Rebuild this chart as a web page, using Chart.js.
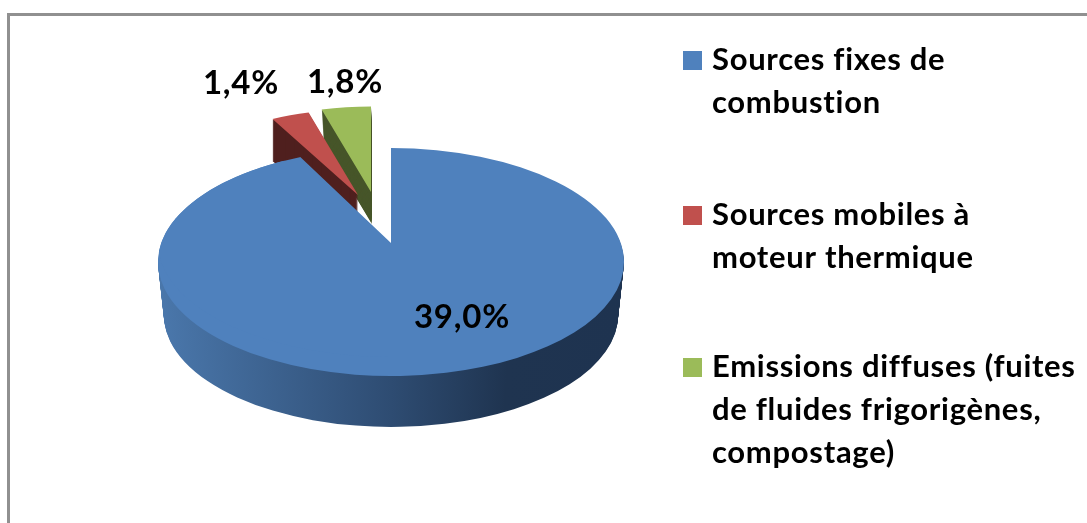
<!DOCTYPE html>
<html>
<head>
<meta charset="utf-8">
<title>Sources</title>
<script src="https://cdn.jsdelivr.net/npm/chart.js@4/dist/chart.umd.min.js"></script>
<style>
  html, body { margin: 0; padding: 0; background: #fff; }
  #frame { position: absolute; left: 7px; top: 13px; right: 0; bottom: 0; border-top: 3px solid #909090; border-left: 3px solid #909090; }
  #chart { position: absolute; left: 0; top: 0; filter: blur(0.6px); }
</style>
</head>
<body>
<div id="frame"></div>
<canvas id="chart" width="1087" height="523"></canvas>
<script>
'use strict';

var categories = [
  ['Sources fixes de', 'combustion'],
  ['Sources mobiles \u00e0', 'moteur thermique'],
  ['Emissions diffuses (fuites', 'de fluides frigorig\u00e8nes,', 'compostage)'],
];
var shares = [39.0, 1.4, 1.8];
var faceColors = ['#4f81bd', '#c0504d', '#9bbb59'];
var wallColors = [null, '#4f1f1e', '#47562a'];

// Fake 3D look: where each slice's tip lands and how it is squashed
var RADIUS = 233;
var PIE_X = 391;
var PIE_Y = 262;
var PIE_SQUASH = 114 / 233;
var TIP_LIFT = 19;
var PIE_DEPTH = 53;
var slices = [
  null,
  { x: 358, y: 195, sx: 0.8, sy: 0.367, depth: 42, lean: 0 },
  { x: 371, y: 192, sx: 0.8, sy: 0.367, depth: 34, lean: 2, maxX: 371.5 },
];
var valueLabels = [
  { x: 462, y: 317 },
  { x: 241, y: 83 },
  { x: 345, y: 82 },
];

var LABEL_FONT = 'bold 33px Lato';
var LABEL_SPACING = '0.8px';
var LEGEND_FONT = 'bold 31px Lato';
var LEGEND_SPACING = '0.7px';
var LEGEND_X = 683;
var LEGEND_TEXT_X = 712;
var LEGEND_LINE = 43;
var LEGEND_TOPS = [60, 215, 367];

function paintArc(ctx, arc, fill, x, y, sx, sy) {
  var saved = arc.options;
  arc.options = Object.assign({}, saved, { backgroundColor: fill });
  ctx.save();
  ctx.translate(x, y);
  ctx.scale(sx, sy);
  ctx.translate(-arc.x, -arc.y);
  arc.draw(ctx);
  ctx.restore();
  arc.options = saved;
}

function drawExploded(ctx, arc, i) {
  var s = slices[i];
  ctx.save();
  if (s.maxX) {
    ctx.beginPath();
    ctx.rect(0, 0, s.maxX, 523);
    ctx.clip();
  }
  for (var d = s.depth; d > 0; d--) {
    paintArc(ctx, arc, wallColors[i], s.x + s.lean * d / s.depth, s.y + d, s.sx, s.sy);
  }
  ctx.restore();
  paintArc(ctx, arc, faceColors[i], s.x, s.y, s.sx, s.sy);
}

function drawMainSlice(ctx, arc) {
  var grad = ctx.createLinearGradient(arc.x - RADIUS, 0, arc.x + RADIUS, 0);
  grad.addColorStop(0, '#4a77ab');
  grad.addColorStop(0.5, '#2e4c72');
  grad.addColorStop(0.75, '#1f3450');
  grad.addColorStop(1, '#1e3350');

  for (var d = PIE_DEPTH; d > 0; d--) {
    var k = d / PIE_DEPTH;
    paintArc(ctx, arc, grad, PIE_X, PIE_Y + d, 1 - 0.025 * k, PIE_SQUASH * (1 - 0.018 * k));
  }
  paintArc(ctx, arc, faceColors[0], PIE_X, PIE_Y, 1, PIE_SQUASH);

  // the real apex sits further back than the rim centre: lift it inside the rim
  ctx.save();
  ctx.beginPath();
  ctx.ellipse(PIE_X, PIE_Y, RADIUS, RADIUS * PIE_SQUASH, 0, 0, Math.PI * 2);
  ctx.clip();
  ctx.beginPath();
  ctx.rect(0, 0, PIE_X, 523);
  ctx.clip();
  paintArc(ctx, arc, faceColors[0], PIE_X, PIE_Y - TIP_LIFT, 1, PIE_SQUASH);
  ctx.restore();
}

function formatShare(v) {
  return v.toFixed(1).replace('.', ',') + '%';
}

var pie3d = {
  id: 'pie3d',
  beforeDatasetDraw: function(chart, args) {
    var ctx = chart.ctx;
    var arcs = args.meta.data;
    drawExploded(ctx, arcs[2], 2);
    drawExploded(ctx, arcs[1], 1);
    drawMainSlice(ctx, arcs[0]);
    return false;
  },
  afterDraw: function(chart) {
    var ctx = chart.ctx;
    ctx.save();
    ctx.fillStyle = '#000';
    ctx.textBaseline = 'middle';
    ctx.textAlign = 'center';
    ctx.font = LABEL_FONT;
    ctx.letterSpacing = LABEL_SPACING;
    shares.forEach(function(v, i) {
      ctx.fillText(formatShare(v), valueLabels[i].x, valueLabels[i].y);
    });
    ctx.textAlign = 'left';
    ctx.font = LEGEND_FONT;
    ctx.letterSpacing = LEGEND_SPACING;
    categories.forEach(function(lines, i) {
      ctx.fillStyle = faceColors[i];
      ctx.fillRect(LEGEND_X, LEGEND_TOPS[i] - 9, 19, 19);
      ctx.fillStyle = '#000';
      lines.forEach(function(line, j) {
        ctx.fillText(line, LEGEND_TEXT_X, LEGEND_TOPS[i] + j * LEGEND_LINE);
      });
    });
    ctx.restore();
  },
};

new Chart(document.getElementById('chart'), {
  type: 'pie',
  data: {
    labels: categories,
    datasets: [{
      data: shares,
      backgroundColor: faceColors,
      borderWidth: 0,
      radius: RADIUS,
    }],
  },
  options: {
    responsive: false,
    animation: false,
    rotation: 0,
    plugins: {
      legend: { display: false },
      tooltip: { enabled: false },
    },
  },
  plugins: [pie3d],
});
</script>
</body>
</html>
